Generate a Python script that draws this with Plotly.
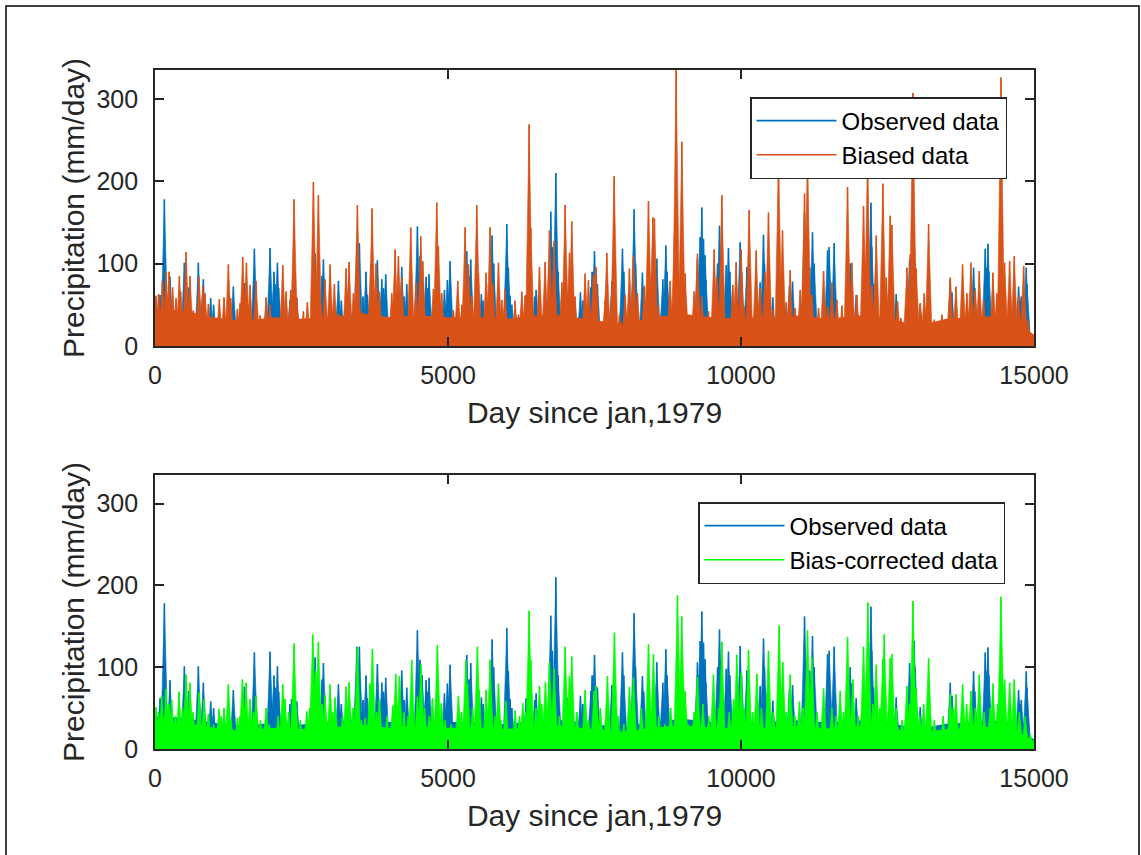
import plotly.graph_objects as go

# ---------------- data ----------------
# (day, mm/day) of visible spikes
obs_spikes = [
    (86, 62), (160, 178), (256, 84), (501, 101), (575, 71), (740, 101), (825, 81), (950, 58), (1000, 50),
    (1337, 72), (1525, 76), (1696, 118), (1963, 119), (2030, 90), (2050, 75), (2089, 101), (2110, 70),
    (2300, 55), (2330, 61), (2420, 58), (2732, 112), (2850, 85), (2874, 105), (3130, 79), (3180, 55),
    (3443, 125), (3488, 125), (3550, 60), (3600, 90), (3625, 62), (3795, 104), (3870, 81), (3900, 70),
    (3937, 87), (4210, 96), (4250, 60), (4296, 75), (4478, 145), (4523, 109), (4560, 90), (4626, 84),
    (4650, 70), (4677, 87), (4939, 68), (4990, 80), (5036, 103), (5320, 115), (5360, 85), (5388, 105),
    (5570, 63), (5600, 55), (5753, 134), (5780, 100), (6003, 148), (6030, 95), (6060, 61), (6090, 50),
    (6333, 62), (6420, 55), (6480, 60), (6504, 68), (6754, 163), (6780, 120), (6840, 210), (6880, 90),
    (7027, 63), (7260, 65), (7300, 55), (7437, 71), (7460, 90), (7470, 89), (7500, 115), (7550, 75),
    (7795, 78), (7977, 118), (8000, 90), (8176, 166), (8200, 100), (8318, 89), (8340, 70), (8563, 106),
    (8665, 81), (8717, 122), (8740, 90), (9257, 106), (9280, 90), (9303, 132), (9331, 168), (9360, 130),
    (9388, 110), (9400, 80), (9600, 100), (9633, 146), (9660, 110), (9748, 98), (9786, 119), (9810, 90),
    (9986, 126), (10010, 90), (10100, 96), (10327, 77), (10384, 135), (10400, 100), (10450, 70),
    (10543, 59), (10827, 73), (10860, 60), (10880, 78), (11084, 162), (11100, 110), (11163, 96),
    (11200, 95), (11220, 138), (11250, 100), (11477, 116), (11490, 90), (11505, 120), (11590, 125),
    (11864, 100), (11880, 80), (11966, 62), (12217, 174), (12230, 120), (12262, 75), (12270, 60),
    (12649, 63), (12877, 105), (12890, 85), (12956, 132), (12970, 100), (13059, 51), (13571, 81),
    (13600, 65), (13969, 95), (13990, 70), (14168, 118), (14180, 95), (14214, 124), (14230, 90),
    (14453, 80), (14470, 60), (14737, 72), (14760, 55), (14783, 60), (14868, 95), (14880, 75),
]

biased_spikes = [
    (17, 61), (60, 63), (126, 79), (188, 90), (240, 90), (300, 71), (359, 58), (416, 85), (438, 66),
    (530, 114), (598, 85), (655, 43), (750, 84), (814, 73), (854, 64), (911, 51), (996, 30), (1098, 57),
    (1178, 59), (1252, 99), (1292, 58), (1406, 45), (1451, 52), (1497, 108), (1560, 101), (1622, 74),
    (1724, 79), (1793, 37), (1895, 59), (1963, 50), (2049, 24), (2180, 98), (2237, 66), (2316, 68),
    (2373, 178), (2418, 59), (2532, 42), (2600, 53), (2703, 199), (2788, 183), (2828, 51), (2902, 81),
    (2988, 99), (3061, 75), (3130, 40), (3261, 94), (3312, 102), (3386, 64), (3454, 171), (3528, 42),
    (3585, 37), (3682, 99), (3704, 167), (3772, 100), (3829, 66), (3926, 30), (4040, 64), (4097, 117),
    (4154, 109), (4210, 83), (4296, 24), (4364, 144), (4455, 77), (4535, 133), (4570, 103), (4666, 36),
    (4751, 69), (4808, 174), (4836, 121), (4893, 64), (5036, 26), (5093, 43), (5166, 79), (5235, 50),
    (5292, 144), (5349, 99), (5405, 61), (5491, 171), (5519, 88), (5588, 24), (5650, 89), (5718, 144),
    (5764, 75), (5861, 101), (5918, 56), (5974, 69), (6060, 15), (6145, 55), (6202, 38), (6259, 66),
    (6316, 61), (6384, 269), (6413, 143), (6487, 28), (6561, 96), (6657, 102), (6731, 140), (6811, 127),
    (6885, 28), (6942, 77), (6999, 171), (7073, 113), (7112, 151), (7169, 60), (7255, 26), (7340, 88),
    (7397, 80), (7494, 87), (7425, 40), (7482, 85), (7527, 96), (7624, 30), (7681, 56), (7710, 113),
    (7795, 62), (7835, 206), (7926, 38), (7994, 20), (8022, 62), (8096, 94), (8165, 110), (8233, 64),
    (8352, 73), (8421, 176), (8495, 156), (8523, 155), (8591, 48), (8705, 26), (8791, 79), (8865, 136),
    (8893, 335), (8933, 83), (8990, 248), (9047, 88), (9132, 19), (9200, 66), (9257, 112), (9331, 60),
    (9445, 42), (9542, 117), (9587, 83), (9673, 183), (9758, 33), (9860, 74), (9917, 102), (10003, 117),
    (10054, 48), (10139, 165), (10213, 36), (10259, 116), (10327, 70), (10412, 89), (10469, 162),
    (10543, 44), (10640, 225), (10708, 140), (10771, 53), (10839, 92), (10924, 46), (11010, 68),
    (11084, 185), (11135, 225), (11192, 62), (11209, 62), (11266, 20), (11323, 46), (11409, 91),
    (11477, 48), (11551, 77), (11636, 56), (11722, 49), (11818, 193), (11892, 101), (11977, 62),
    (12091, 170), (12160, 225), (12233, 73), (12308, 134), (12347, 24), (12421, 197), (12478, 83),
    (12546, 158), (12575, 147), (12672, 54), (12729, 34), (12831, 95), (12888, 111), (12934, 307),
    (12990, 94), (13059, 52), (13127, 64), (13201, 148), (13298, 32), (13429, 38), (13571, 83),
    (13667, 72), (13781, 99), (13855, 64), (13924, 101), (13998, 68), (14066, 91), (14140, 56),
    (14299, 89), (14367, 64), (14436, 326), (14498, 101), (14584, 103), (14663, 109), (14737, 60),
    (14823, 97), (14891, 32), (14936, 15),
]

corrected_spikes = [
    (17, 51), (60, 45), (114, 65), (188, 73), (240, 55), (285, 60), (350, 40), (410, 70), (470, 50),
    (530, 91), (598, 81), (650, 45), (752, 69), (837, 61), (911, 43), (1000, 30), (1093, 49), (1130, 40),
    (1178, 50), (1252, 79), (1300, 35), (1406, 38), (1450, 40), (1491, 85), (1554, 81), (1622, 61),
    (1680, 45), (1724, 65), (1800, 35), (1895, 50), (1950, 30), (2100, 40), (2180, 79), (2219, 61),
    (2280, 45), (2373, 129), (2407, 51), (2480, 35), (2589, 46), (2640, 50), (2692, 140), (2743, 95),
    (2788, 131), (2850, 55), (2902, 66), (2988, 79), (3030, 45), (3073, 63), (3200, 40), (3261, 76),
    (3312, 82), (3380, 50), (3454, 124), (3520, 35), (3585, 38), (3670, 80), (3710, 122), (3780, 45),
    (3829, 61), (3960, 40), (4057, 53), (4108, 92), (4171, 89), (4250, 45), (4320, 40), (4381, 109),
    (4478, 64), (4540, 103), (4600, 50), (4680, 40), (4734, 62), (4819, 127), (4888, 56), (4950, 35),
    (5050, 30), (5178, 65), (5230, 45), (5303, 109), (5331, 80), (5420, 50), (5502, 125), (5530, 72),
    (5650, 72), (5718, 109), (5800, 40), (5861, 80), (5900, 35), (5986, 59), (6050, 25), (6145, 47),
    (6220, 40), (6276, 56), (6330, 45), (6384, 169), (6413, 109), (6500, 50), (6561, 77), (6600, 55),
    (6663, 82), (6731, 106), (6811, 98), (6900, 40), (6999, 125), (7073, 89), (7112, 113), (7200, 45),
    (7340, 72), (7400, 35), (7494, 71), (7527, 77), (7600, 50), (7721, 89), (7840, 142), (7900, 40),
    (8000, 30), (8096, 76), (8165, 87), (8300, 50), (8421, 128), (8506, 116), (8600, 40), (8700, 30),
    (8800, 50), (8916, 188), (8990, 162), (9047, 71), (9100, 30), (9200, 45), (9257, 88), (9350, 55),
    (9450, 40), (9530, 91), (9620, 50), (9673, 131), (9800, 45), (9872, 61), (9928, 115), (10003, 93),
    (10050, 50), (10128, 121), (10200, 45), (10270, 92), (10350, 50), (10469, 120), (10550, 45),
    (10651, 151), (10714, 106), (10770, 45), (10839, 91), (10920, 40), (10998, 58), (11060, 50),
    (11135, 145), (11209, 112), (11300, 45), (11409, 74), (11550, 50), (11620, 40), (11693, 71),
    (11750, 45), (11818, 137), (11909, 85), (12000, 40), (12091, 125), (12165, 179), (12250, 55),
    (12308, 103), (12370, 50), (12421, 110), (12444, 140), (12546, 111), (12575, 116), (12650, 50),
    (12750, 35), (12831, 77), (12880, 55), (12934, 181), (12990, 74), (13050, 40), (13116, 55),
    (13201, 111), (13300, 35), (13450, 40), (13571, 67), (13620, 50), (13667, 67), (13781, 79),
    (13850, 55), (13924, 71), (14000, 50), (14066, 91), (14150, 45), (14250, 50), (14299, 80),
    (14380, 55), (14436, 186), (14498, 85), (14584, 81), (14663, 85), (14750, 45), (14850, 40),
    (14936, 18),
]

# dense low-level envelope (mm/day) every 500 days
base_days = [0, 500, 1000, 1500, 2000, 2500, 3000, 3500, 4000, 4500, 5000, 5500, 6000, 6500, 7000,
             7500, 8000, 8500, 9000, 9500, 10000, 10500, 11000, 11500, 12000, 12500, 13000, 13500,
             14000, 14500, 15000]
obs_base = [40, 38, 32, 28, 32, 30, 33, 37, 33, 35, 33, 33, 30, 35, 35, 30, 27, 33, 37, 33, 32, 33,
            35, 32, 35, 33, 24, 31, 33, 35, 12]
biased_base = [45, 43, 35, 30, 35, 33, 35, 40, 35, 37, 35, 35, 33, 37, 37, 31, 27, 35, 39, 35, 33, 35,
               37, 33, 37, 35, 24, 33, 35, 37, 14]
corrected_base = [34, 32, 26, 22, 26, 24, 26, 30, 26, 28, 26, 26, 24, 28, 28, 24, 21, 26, 29, 26, 25,
                  26, 28, 25, 28, 26, 20, 24, 26, 28, 10]

x_ticks = [0, 5000, 10000, 15000]
x_tick_text = ["0", "5000", "10000", "15000"]
y_ticks = [0, 100, 200, 300]
y_tick_text = ["0", "100", "200", "300"]
x_title = "Day since jan,1979"
y_title = "Precipitation (mm/day)"

BLUE = "#0072BD"
ORANGE = "#D95319"
GREEN = "#00FF00"
AX = "#262626"
FONT = "Liberation Sans, Arial, Helvetica, sans-serif"

W, H = 1141, 855
HALF_W = 65  # half width (days) of the wedge drawn under each spike


def spike_xy(pairs):
    xs, ys = [], []
    for d, v in sorted(pairs):
        xs += [d, d, None]
        ys += [0, v, None]
    return xs, ys


def wedge_xy(pairs):
    xs, ys = [], []
    for d, v in sorted(pairs):
        xs += [d - HALF_W, d, d + HALF_W, None]
        ys += [0, v, 0, None]
    return xs, ys


fig = go.Figure()


def add_series(pairs, base, color, name, xa, ya, legend):
    fig.add_trace(go.Scatter(x=base_days, y=base, mode="lines", line=dict(width=0, color=color),
                             fill="tozeroy", fillcolor=color, showlegend=False, hoverinfo="skip",
                             xaxis=xa, yaxis=ya))
    wx, wy = wedge_xy(pairs)
    fig.add_trace(go.Scatter(x=wx, y=wy, mode="lines", line=dict(width=0.6, color=color),
                             fill="toself", fillcolor=color, showlegend=False, hoverinfo="skip",
                             xaxis=xa, yaxis=ya))
    xs, ys = spike_xy(pairs)
    fig.add_trace(go.Scatter(x=xs, y=ys, mode="lines", line=dict(width=1.6, color=color), name=name,
                             xaxis=xa, yaxis=ya, legend=legend))


add_series(obs_spikes, obs_base, BLUE, "Observed data", "x", "y", "legend")
add_series(biased_spikes, biased_base, ORANGE, "Biased data", "x", "y", "legend")
add_series(obs_spikes, obs_base, BLUE, "Observed data", "x2", "y2", "legend2")
add_series(corrected_spikes, corrected_base, GREEN, "Bias-corrected data", "x2", "y2", "legend2")

xdom = [155 / W, 1034 / W]
common_x = dict(range=[0, 15000], tickvals=x_ticks, ticktext=x_tick_text, ticks="inside", ticklen=9,
                tickwidth=1.5, tickcolor=AX, showline=True, linewidth=1.8, linecolor=AX,
                mirror="ticks", showgrid=False, zeroline=False,
                tickfont=dict(size=25, color=AX, family=FONT),
                ticklabelstandoff=6, automargin=False, domain=xdom,
                title=dict(text=x_title, font=dict(size=30, color=AX, family=FONT), standoff=14))
common_y = dict(range=[0, 335], tickvals=y_ticks, ticktext=y_tick_text, ticks="inside", ticklen=9,
                tickwidth=1.5, tickcolor=AX, showline=True, linewidth=1.8, linecolor=AX,
                mirror="ticks", showgrid=False, zeroline=False,
                tickfont=dict(size=25, color=AX, family=FONT),
                ticklabelstandoff=10, automargin=False,
                title=dict(text=y_title, font=dict(size=30, color=AX, family=FONT), standoff=3))

legend_common = dict(bgcolor="white", bordercolor=AX, borderwidth=1.5,
                     font=dict(size=24, color="black", family=FONT), xanchor="right", yanchor="top",
                     itemwidth=80, tracegroupgap=0)

fig.update_layout(
    width=W, height=H, margin=dict(l=0, r=0, t=0, b=0),
    paper_bgcolor="white", plot_bgcolor="white",
    xaxis=dict(common_x, anchor="y"),
    yaxis=dict(common_y, anchor="x", domain=[(H - 346) / H, (H - 70) / H]),
    xaxis2=dict(common_x, anchor="y2"),
    yaxis2=dict(common_y, anchor="x2", domain=[(H - 749) / H, (H - 475) / H]),
    legend=dict(legend_common, x=1007 / W, y=(H - 97) / H),
    legend2=dict(legend_common, x=1005 / W, y=(H - 502) / H),
    showlegend=True,
    shapes=[dict(type="rect", xref="paper", yref="paper", x0=6 / W, x1=1139 / W, y0=-0.02,
                 y1=(H - 6) / H, line=dict(color="black", width=1.5), fillcolor="rgba(0,0,0,0)",
                 layer="below")],
)

fig.write_html("out.html")
